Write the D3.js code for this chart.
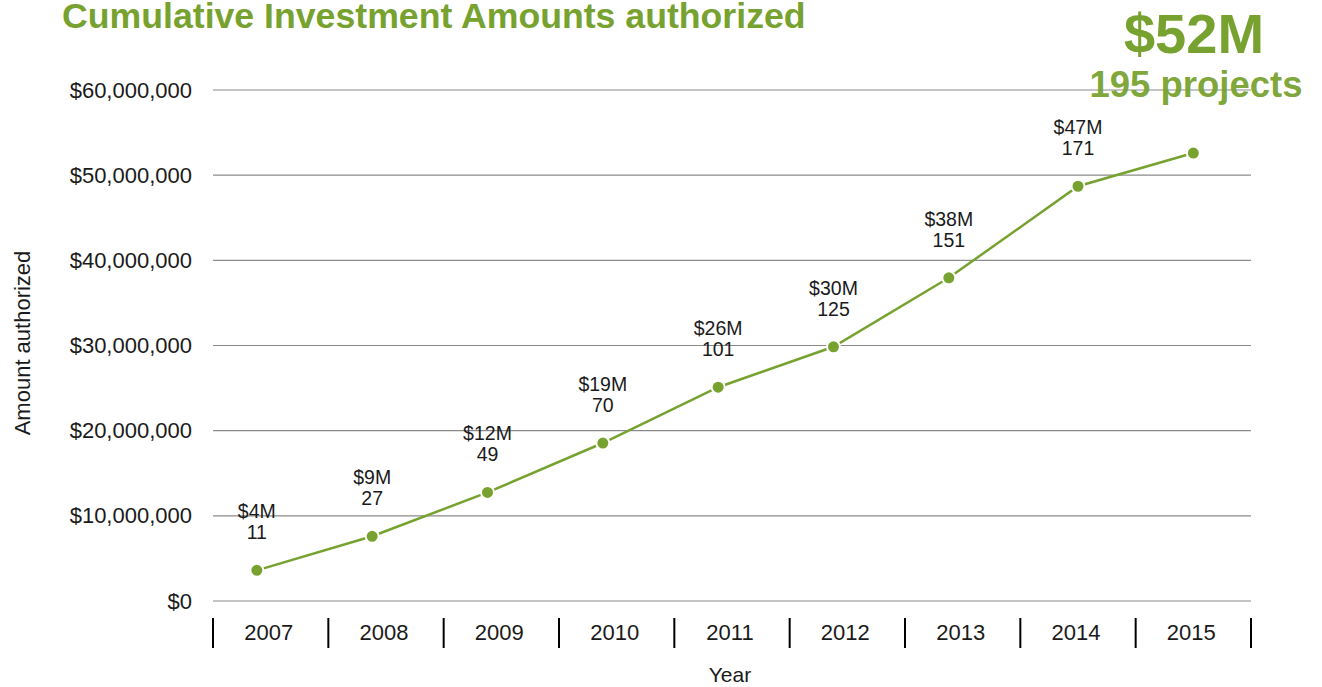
<!DOCTYPE html>
<html>
<head>
<meta charset="utf-8">
<script src="https://cdn.jsdelivr.net/npm/d3@7"></script>
<style>
  html, body { margin: 0; padding: 0; background: #fff; }
  svg { display: block; }
  text { font-family: "Liberation Sans", Arial, Helvetica, sans-serif; }
</style>
</head>
<body>
<svg id="chart" width="1322" height="687"></svg>
<script>
// ---- data ----
const years = [2007, 2008, 2009, 2010, 2011, 2012, 2013, 2014, 2015];
// reporting point within each year (decimal year)
const reportDates = [2007.38, 2008.38, 2009.38, 2010.38, 2011.38, 2012.38, 2013.38, 2014.5, 2015.5];
const amounts = [3.6e6, 7.6e6, 12.75e6, 18.55e6, 25.1e6, 29.85e6, 37.95e6, 48.7e6, 52.6e6];
const amountLabels = ["$4M", "$9M", "$12M", "$19M", "$26M", "$30M", "$38M", "$47M", null];
const projectCounts = ["11", "27", "49", "70", "101", "125", "151", "171", null];
const yTicks = [0, 10e6, 20e6, 30e6, 40e6, 50e6, 60e6];
const totalAmount = "$52M";
const totalProjects = "195 projects";
const titleText = "Cumulative Investment Amounts authorized";

const green = "#77a22f";
const svg = d3.select("#chart");

const x = d3.scaleLinear().domain([2007, 2016]).range([213, 1251]);
const y = d3.scaleLinear().domain([0, 60e6]).range([601, 90]);

// gridlines
svg.append("g").selectAll("line").data(yTicks).join("line")
  .attr("x1", x(2007)).attr("x2", x(2016))
  .attr("y1", d => y(d)).attr("y2", d => y(d))
  .attr("stroke", "#8a8a8a").attr("stroke-width", 1.2);

// y axis labels
const fmt = d3.format("$,");
svg.append("g").selectAll("text").data(yTicks).join("text")
  .attr("x", 192).attr("y", d => y(d) + 7.5)
  .attr("text-anchor", "end")
  .attr("font-size", 22).attr("fill", "#1a1a1a")
  .text(d => fmt(d));

// x axis separators (year boundaries)
const boundaries = years.concat([2016]);
svg.append("g").selectAll("line").data(boundaries).join("line")
  .attr("x1", d => x(d)).attr("x2", d => x(d))
  .attr("y1", 618).attr("y2", 648)
  .attr("stroke", "#000").attr("stroke-width", 2);

// year labels
svg.append("g").selectAll("text").data(years).join("text")
  .attr("x", d => x(d + 0.5) - 2).attr("y", 640)
  .attr("text-anchor", "middle")
  .attr("font-size", 22).attr("fill", "#1a1a1a")
  .text(d => d);

// axis titles
svg.append("text")
  .attr("x", 730).attr("y", 682)
  .attr("text-anchor", "middle").attr("font-size", 21).attr("fill", "#1a1a1a")
  .text("Year");
svg.append("text")
  .attr("transform", "translate(30,343) rotate(-90)")
  .attr("text-anchor", "middle").attr("font-size", 22).attr("fill", "#1a1a1a")
  .text("Amount authorized");

// line
const pts = years.map((yr, i) => ({ x: reportDates[i], v: amounts[i], lab: amountLabels[i], cnt: projectCounts[i] }));
const line = d3.line().x(d => x(d.x)).y(d => y(d.v));
svg.append("path").datum(pts)
  .attr("d", line).attr("fill", "none")
  .attr("stroke", green).attr("stroke-width", 2.5);

svg.append("g").selectAll("circle").data(pts).join("circle")
  .attr("cx", d => x(d.x)).attr("cy", d => y(d.v))
  .attr("r", 6.5).attr("fill", green)
  .attr("stroke", "#fff").attr("stroke-width", 2);

// annotations
const ann = svg.append("g").selectAll("g").data(pts.filter(d => d.lab)).join("g");
ann.append("text")
  .attr("x", d => x(d.x)).attr("y", d => y(d.v) - 52)
  .attr("text-anchor", "middle").attr("font-size", 19.5).attr("fill", "#1a1a1a")
  .text(d => d.lab);
ann.append("text")
  .attr("x", d => x(d.x)).attr("y", d => y(d.v) - 31)
  .attr("text-anchor", "middle").attr("font-size", 19.5).attr("fill", "#1a1a1a")
  .text(d => d.cnt);

// total callout
svg.append("text")
  .attr("x", 1194).attr("y", 53)
  .attr("text-anchor", "middle").attr("font-size", 56).attr("font-weight", "bold")
  .attr("fill", green).text(totalAmount);
svg.append("text")
  .attr("x", 1196).attr("y", 97)
  .attr("text-anchor", "middle").attr("font-size", 36.5).attr("font-weight", "bold")
  .attr("fill", green).attr("fill-opacity", 0.95).text(totalProjects);

// title
const title = svg.append("text")
  .attr("x", 62).attr("y", 28)
  .attr("font-family", "Lato, 'Open Sans', sans-serif")
  .attr("font-weight", 700)
  .attr("font-size", 40).attr("fill", green)
  .text(titleText);
const w = title.node().getComputedTextLength();
title.attr("font-size", 40 * 744 / w);
</script>
</body>
</html>
